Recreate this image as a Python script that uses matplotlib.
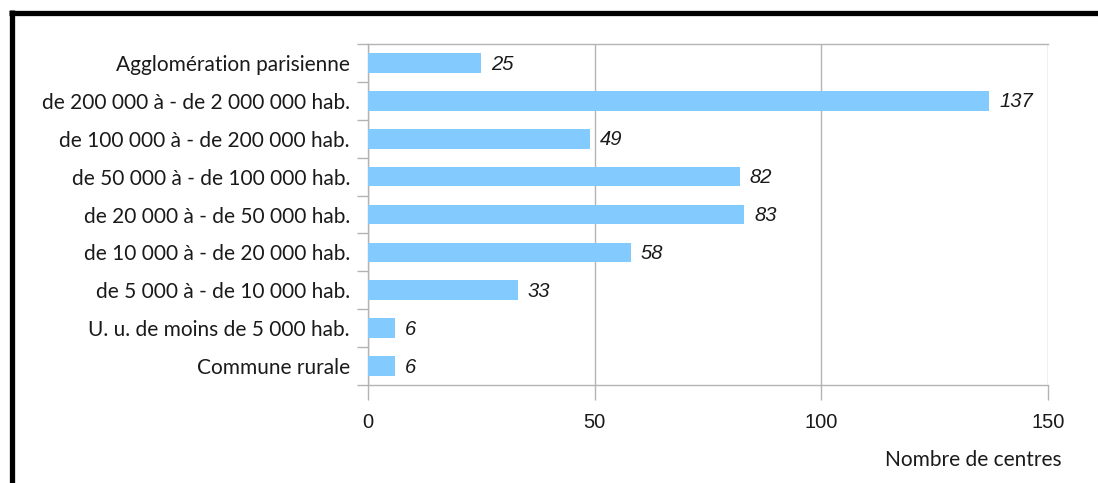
import matplotlib.pyplot as plt
from matplotlib.lines import Line2D
import numpy as np

categories = [
    "Agglomération parisienne",
    "de 200 000 à - de 2 000 000 hab.",
    "de 100 000 à - de 200 000 hab.",
    "de 50 000 à - de 100 000 hab.",
    "de 20 000 à - de 50 000 hab.",
    "de 10 000 à - de 20 000 hab.",
    "de 5 000 à - de 10 000 hab.",
    "U. u. de moins de 5 000 hab.",
    "Commune rurale",
]
centres = [25, 137, 49, 82, 83, 58, 33, 6, 6]
xticks = [0, 50, 100, 150]

grey = "#b3b3b3"
bar_color = "#83caff"

fig = plt.figure(figsize=(10.98, 4.83), dpi=100)
ax = fig.add_axes([0.3352, 0.2029, 0.6193, 0.706])

y = np.arange(len(categories))
ax.barh(y, centres, height=0.52, color=bar_color, zorder=3)
for yi, v in zip(y, centres):
    ax.text(v + 2.2, yi + 0.03, str(v), va="center", ha="left", fontsize=14.5,
            style="italic", family="Liberation Sans", color="#1a1a1a")

ax.set_ylim(len(categories) - 0.5, -0.5)
ax.set_xlim(0, 150)

ax.set_yticks(y)
ax.set_yticklabels(categories, family="Lato", fontsize=15, color="#1a1a1a")
ax.set_yticks(np.arange(len(categories) + 1) - 0.5, minor=True)
ax.tick_params(axis="y", which="major", length=0, pad=13)
ax.tick_params(axis="y", which="minor", length=8, color=grey, width=1)

ax.set_xticks(xticks)
ax.set_xticklabels([str(t) for t in xticks], family="Liberation Sans",
                   fontsize=14.5, color="#1a1a1a")
ax.tick_params(axis="x", length=11, color=grey, width=1, pad=9)
ax.grid(axis="x", color=grey, linewidth=1, zorder=0)

for side in ["left", "bottom", "top"]:
    ax.spines[side].set_color(grey)
    ax.spines[side].set_linewidth(1)
ax.spines["right"].set_visible(False)

fig.text(1062 / 1098, 1 - 460 / 483, "Nombre de centres", ha="right",
         va="center", family="Lato", fontsize=15, color="#1a1a1a")

# black frame on top and left edges
fig.add_artist(Line2D([9 / 1098, 1.0], [1 - 12.5 / 483] * 2, color="black",
                      linewidth=3.8, solid_capstyle="butt"))
fig.add_artist(Line2D([11.5 / 1098] * 2, [0, 1 - 10 / 483], color="black",
                      linewidth=3.8, solid_capstyle="butt"))

fig.savefig("out.png", dpi=100)
